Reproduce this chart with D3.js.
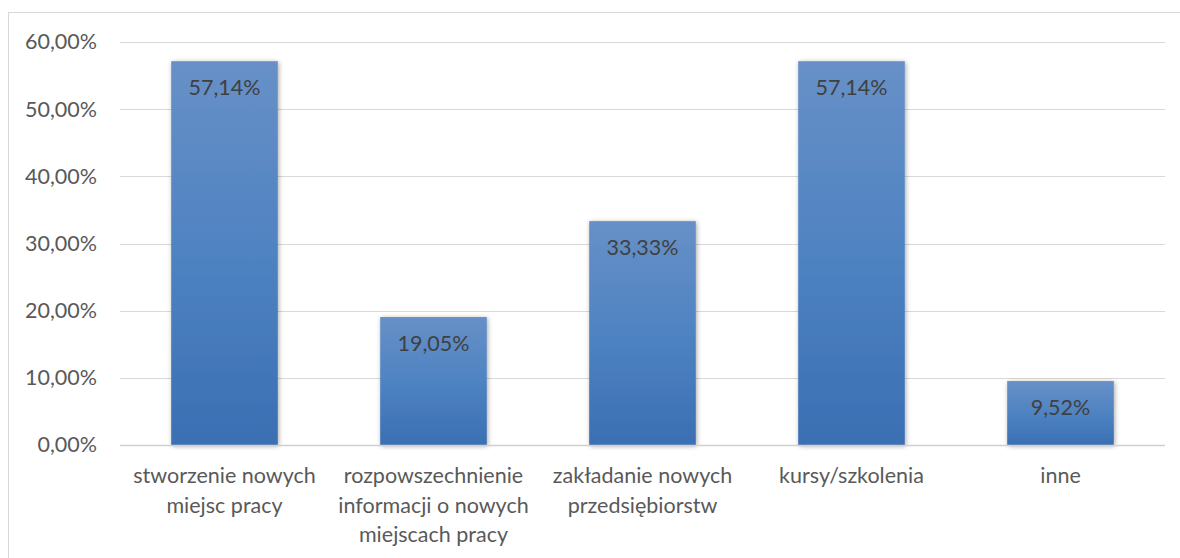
<!DOCTYPE html>
<html>
<head>
<meta charset="utf-8">
<script src="https://cdn.jsdelivr.net/npm/d3@7"></script>
<style>
  body { margin: 0; background: #fff; }
  svg text { font-family: Lato, "Open Sans", sans-serif; }
</style>
</head>
<body>
<svg id="chart" width="1180" height="558"></svg>
<script>
// data
var categories = [
  ["stworzenie nowych", "miejsc pracy"],
  ["rozpowszechnienie", "informacji o nowych", "miejscach pracy"],
  ["zakładanie nowych", "przedsiębiorstw"],
  ["kursy/szkolenia"],
  ["inne"]
];
var values = [0.5714, 0.1905, 0.3333, 0.5714, 0.0952];
var valueLabels = ["57,14%", "19,05%", "33,33%", "57,14%", "9,52%"];
var yTicks = [0, 0.1, 0.2, 0.3, 0.4, 0.5, 0.6];

var svg = d3.select("#chart");
var plotL = 120, plotR = 1165, plotT = 42, plotB = 445;
var fontSize = 21.5;

// outer frame
svg.append("rect")
  .attr("x", 8.5).attr("y", 12.5)
  .attr("width", 1180).attr("height", 560)
  .attr("fill", "none").attr("stroke", "#d9d9d9");

var x = d3.scaleBand()
  .domain(d3.range(values.length))
  .range([plotL, plotR])
  .paddingInner(0.49).paddingOuter(0.245);

var y = d3.scaleLinear().domain([0, 0.6]).range([plotB, plotT]);

var defs = svg.append("defs");
var grad = defs.append("linearGradient")
  .attr("id", "barGrad").attr("x1", 0).attr("y1", 0).attr("x2", 0).attr("y2", 1);
grad.append("stop").attr("offset", "0%").attr("stop-color", "#6790c7");
grad.append("stop").attr("offset", "50%").attr("stop-color", "#4f83c2");
grad.append("stop").attr("offset", "100%").attr("stop-color", "#3a6fb3");

var shadow = defs.append("filter").attr("id", "shadow")
  .attr("x", "-20%").attr("y", "-10%").attr("width", "140%").attr("height", "120%");
shadow.append("feGaussianBlur").attr("in", "SourceAlpha").attr("stdDeviation", 2.5);
shadow.append("feOffset").attr("dx", 1).attr("dy", 1).attr("result", "blur");
shadow.append("feComponentTransfer").append("feFuncA").attr("type", "linear").attr("slope", 0.35);
var merge = shadow.append("feMerge");
merge.append("feMergeNode");
merge.append("feMergeNode").attr("in", "SourceGraphic");

// gridlines
svg.append("g").selectAll("line")
  .data(yTicks.slice(1))
  .enter().append("line")
  .attr("x1", plotL).attr("x2", plotR)
  .attr("y1", function(d){ return Math.round(y(d)) + 0.5; })
  .attr("y2", function(d){ return Math.round(y(d)) + 0.5; })
  .attr("stroke", "#d9d9d9").attr("stroke-width", 1);

// y axis labels
var yAxis = d3.axisLeft(y).tickValues(yTicks).tickSize(0).tickPadding(0)
  .tickFormat(function(d){ return d3.format(".2f")(d * 100).replace(".", ",") + "%"; });
var gy = svg.append("g").attr("transform", "translate(97,0)").call(yAxis);
gy.select(".domain").remove();
gy.selectAll("text").attr("font-size", fontSize).attr("fill", "#595959")
  .attr("font-family", "Lato, sans-serif");

// bars
svg.append("g").selectAll("rect")
  .data(values)
  .enter().append("rect")
  .attr("x", function(d, i){ return x(i); })
  .attr("y", function(d){ return y(d); })
  .attr("width", x.bandwidth())
  .attr("height", function(d){ return y(0) - y(d); })
  .attr("fill", "url(#barGrad)")
  .attr("filter", "url(#shadow)");

// baseline
svg.append("line")
  .attr("x1", plotL).attr("x2", plotR)
  .attr("y1", plotB + 0.5).attr("y2", plotB + 0.5)
  .attr("stroke", "#d0d0d0").attr("stroke-width", 1.5);

// value labels
svg.append("g").selectAll("text")
  .data(values)
  .enter().append("text")
  .attr("x", function(d, i){ return x(i) + x.bandwidth() / 2; })
  .attr("y", function(d){ return y(d) + 34; })
  .attr("text-anchor", "middle")
  .attr("font-size", fontSize).attr("fill", "#404040")
  .text(function(d, i){ return valueLabels[i]; });

// category labels
svg.append("g").selectAll("text")
  .data(categories)
  .enter().append("text")
  .attr("text-anchor", "middle")
  .attr("font-size", fontSize).attr("fill", "#595959")
  .each(function(d, i){
    var t = d3.select(this);
    for (var j = 0; j < d.length; j++) {
      t.append("tspan")
        .attr("x", x(i) + x.bandwidth() / 2)
        .attr("y", 483 + j * 29.5)
        .text(d[j]);
    }
  });
</script>
</body>
</html>
